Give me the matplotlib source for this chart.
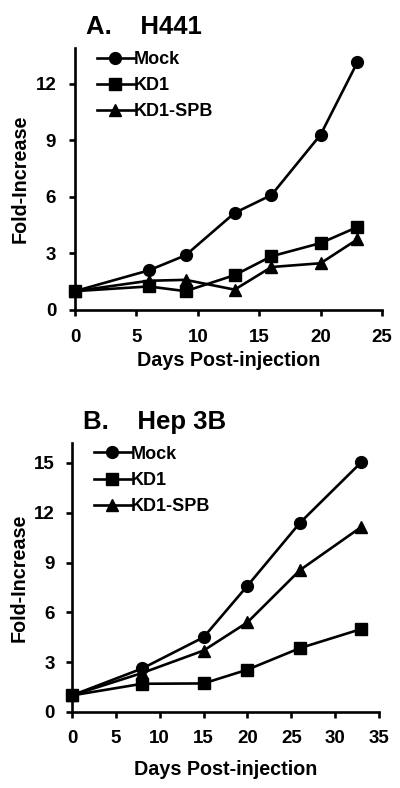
import matplotlib
matplotlib.use("Agg")
import matplotlib.pyplot as plt

plt.rcParams['font.family'] = ['Liberation Sans', 'DejaVu Sans']
plt.rcParams['font.weight'] = 'bold'

# panel A: H441
days_a = [0, 6, 9, 13, 16, 20, 23]
mock_a = [1.0, 2.1, 2.9, 5.15, 6.1, 9.3, 13.15]
kd1_a = [1.0, 1.25, 1.0, 1.85, 2.85, 3.55, 4.4]
spb_a = [1.0, 1.55, 1.6, 1.08, 2.28, 2.48, 3.75]

# panel B: Hep 3B
days_b = [0, 8, 15, 20, 26, 33]
mock_b = [1.0, 2.62, 4.5, 7.6, 11.4, 15.05]
kd1_b = [1.0, 1.7, 1.72, 2.55, 3.85, 5.0]
spb_b = [1.0, 2.35, 3.7, 5.4, 8.55, 11.15]

labels = ["Mock", "KD1", "KD1-SPB"]
markers = ["o", "s", "^"]

fig = plt.figure(figsize=(4, 7.88), dpi=100)
W, H = 400, 788

def setup(rect, days, series, title, xmax, ymax, yticks, xpad, ypad, xlab_pad):
    l, t, r, b = rect
    ax = fig.add_axes([l / W, 1 - b / H, (r - l) / W, (b - t) / H])
    for vals, lab, mk in zip(series, labels, markers):
        ax.plot(days, vals, color='black', lw=1.9, marker=mk,
                ms=8.5 if mk != '^' else 9, label=lab, clip_on=False)
    ax.set_xlim(0, xmax)
    ax.set_ylim(0, ymax)
    ax.set_yticks(yticks)
    ax.set_xticks(range(0, xmax + 1, 5))
    for s in ['top', 'right']:
        ax.spines[s].set_visible(False)
    for s in ['left', 'bottom']:
        ax.spines[s].set_linewidth(1.9)
    ax.tick_params(direction='out', length=4.5, width=1.9, labelsize=13.5)
    ax.tick_params(axis='x', pad=xpad)
    ax.tick_params(axis='y', pad=ypad)
    for lbl in ax.get_xticklabels() + ax.get_yticklabels():
        lbl.set_fontweight('bold')
    ax.set_xlabel("Days Post-injection", fontsize=14.2, fontweight='bold', labelpad=xlab_pad)
    ax.set_ylabel("Fold-Increase", fontsize=14.2, fontweight='bold', labelpad=4)
    ax.legend(loc='upper left', bbox_to_anchor=(0.02, 1.05), frameon=False,
              handlelength=2.0, handletextpad=0.0, labelspacing=0.5,
              prop={'size': 13, 'weight': 'bold'})
    ax.text(0.035, 1.035, title, transform=ax.transAxes, fontsize=18.5,
            fontweight='bold', va='bottom', ha='left')
    return ax

setup((75, 48, 382, 310), days_a, [mock_a, kd1_a, spb_a],
      "A.    H441", 25, 13.9, [0, 3, 6, 9, 12], 9, 9, 4)
setup((72, 443, 379, 712), days_b, [mock_b, kd1_b, spb_b],
      "B.    Hep 3B", 35, 16.2, [0, 3, 6, 9, 12, 15], 8.5, 8, 9)

fig.savefig("out.png", dpi=100)
